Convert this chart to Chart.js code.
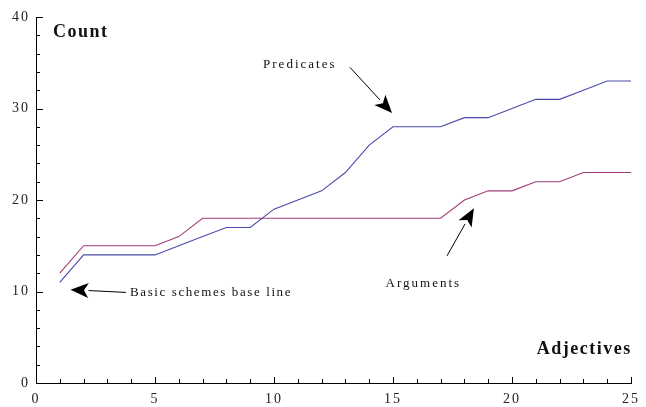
<!DOCTYPE html>
<html>
<head>
<meta charset="utf-8">
<script src="https://cdn.jsdelivr.net/npm/chart.js@4/dist/chart.umd.min.js"></script>
<style>
  html, body { margin: 0; padding: 0; background: #fff; }
  #wrap { width: 646px; height: 407px; }
</style>
</head>
<body>
<div id="wrap"><canvas id="c" width="646" height="407"></canvas></div>
<script>
// ---- data ----
const adjectives = [1, 2, 3, 4, 5, 6, 7, 8, 9, 10, 11, 12, 13, 14, 15, 16, 17, 18, 19, 20, 21, 22, 23, 24, 25];
const predicates = [11, 14, 14, 14, 14, 15, 16, 17, 17, 19, 20, 21, 23, 26, 28, 28, 28, 29, 29, 30, 31, 31, 32, 33, 33];
const argumentsSeries = [12, 15, 15, 15, 15, 16, 18, 18, 18, 18, 18, 18, 18, 18, 18, 18, 18, 20, 21, 21, 22, 22, 23, 23, 23];
const xTickLabels = [0, 5, 10, 15, 20, 25];
const yTickLabels = [0, 10, 20, 30, 40];

// annotations (data units)
const labels = [
  { text: 'Count', x: 0.71, y: 38.35, bold: true, size: 18, spacing: 1.5 },
  { text: 'Adjectives', x: 21.04, y: 3.72, bold: true, size: 18, spacing: 1.5 },
  { text: 'Predicates', x: 9.54, y: 34.75, bold: false, size: 13, spacing: 2 },
  { text: 'Arguments', x: 14.69, y: 10.9, bold: false, size: 13, spacing: 2 },
  { text: 'Basic schemes base line', x: 3.95, y: 9.9, bold: false, size: 13, spacing: 1.6 }
];
const arrows = [
  { from: [13.19, 34.5], to: [14.96, 29.5] },
  { from: [17.27, 13.9], to: [18.4, 19.1] },
  { from: [3.78, 9.9], to: [1.45, 10.2] }
];

const toPts = (xs, ys) => xs.map((x, i) => ({ x: x, y: ys[i] }));

const decorPlugin = {
  id: 'decor',
  beforeDraw(chart) {
    chart.ctx.letterSpacing = '2px';
  },
  afterDraw(chart) {
    const ctx = chart.ctx;
    const xs = chart.scales.x, ys = chart.scales.y;
    const area = chart.chartArea;
    ctx.save();
    ctx.letterSpacing = '0px';
    ctx.strokeStyle = '#000';
    ctx.lineWidth = 1;
    // x ticks (inward)
    for (let v = 1; v <= 25; v++) {
      const px = Math.round(xs.getPixelForValue(v)) + 0.5;
      const len = v % 5 === 0 ? 6 : 4;
      ctx.beginPath();
      ctx.moveTo(px, Math.round(area.bottom));
      ctx.lineTo(px, Math.round(area.bottom) - len);
      ctx.stroke();
    }
    // y ticks (inward)
    for (let v = 2; v <= 40; v += 2) {
      const py = Math.round(ys.getPixelForValue(v)) + 0.5;
      const len = v % 10 === 0 ? 7 : 4;
      ctx.beginPath();
      ctx.moveTo(Math.round(area.left), py);
      ctx.lineTo(Math.round(area.left) + len, py);
      ctx.stroke();
    }
    // texts
    ctx.fillStyle = '#111';
    ctx.textBaseline = 'middle';
    ctx.textAlign = 'left';
    labels.forEach(l => {
      ctx.font = (l.bold ? 'bold ' : '') + l.size + 'px "Liberation Serif", "Times New Roman", serif';
      ctx.letterSpacing = l.spacing + 'px';
      ctx.fillText(l.text, xs.getPixelForValue(l.x), ys.getPixelForValue(l.y));
    });
    // arrows
    ctx.fillStyle = '#000';
    arrows.forEach(a => {
      const x1 = xs.getPixelForValue(a.from[0]), y1 = ys.getPixelForValue(a.from[1]);
      const x2 = xs.getPixelForValue(a.to[0]), y2 = ys.getPixelForValue(a.to[1]);
      const ang = Math.atan2(y2 - y1, x2 - x1);
      const hl = 18, hw = 7.5;
      const bx = x2 - hl * Math.cos(ang), by = y2 - hl * Math.sin(ang);
      ctx.beginPath();
      ctx.moveTo(x1, y1);
      ctx.lineTo(bx, by);
      ctx.stroke();
      ctx.beginPath();
      ctx.moveTo(x2, y2);
      ctx.lineTo(bx + hw * Math.sin(ang), by - hw * Math.cos(ang));
      ctx.lineTo(bx + 0.25 * hl * Math.cos(ang), by + 0.25 * hl * Math.sin(ang));
      ctx.lineTo(bx - hw * Math.sin(ang), by + hw * Math.cos(ang));
      ctx.closePath();
      ctx.fill();
    });
    ctx.restore();
  }
};

new Chart(document.getElementById('c'), {
  type: 'line',
  data: {
    datasets: [
      {
        label: 'Predicates',
        data: toPts(adjectives, predicates),
        borderColor: '#4a4aac',
        borderWidth: 1.1,
        pointRadius: 0,
        tension: 0,
        fill: false
      },
      {
        label: 'Arguments',
        data: toPts(adjectives, argumentsSeries),
        borderColor: '#a33c78',
        borderWidth: 1.1,
        pointRadius: 0,
        tension: 0,
        fill: false
      }
    ]
  },
  options: {
    responsive: false,
    animation: false,
    devicePixelRatio: 1,
    layout: { padding: { top: 17, right: 14, left: 0, bottom: 0 } },
    plugins: {
      legend: { display: false },
      tooltip: { enabled: false }
    },
    scales: {
      x: {
        type: 'linear',
        min: 0,
        max: 25,
        afterBuildTicks: s => { s.ticks = xTickLabels.map(v => ({ value: v })); },
        afterFit: s => { s.height = 24; },
        grid: { display: false, drawTicks: false },
        border: { display: true, color: '#000', width: 1 },
        ticks: {
          padding: 8,
          color: '#222',
          maxRotation: 0,
          font: { family: '"Liberation Serif", serif', size: 14 }
        }
      },
      y: {
        type: 'linear',
        min: 0,
        max: 40,
        afterBuildTicks: s => { s.ticks = yTickLabels.map(v => ({ value: v })); },
        afterFit: s => { s.width = 36; },
        grid: { display: false, drawTicks: false },
        border: { display: true, color: '#000', width: 1 },
        ticks: {
          padding: 6,
          color: '#222',
          font: { family: '"Liberation Serif", serif', size: 14 }
        }
      }
    }
  },
  plugins: [decorPlugin]
});
</script>
</body>
</html>
